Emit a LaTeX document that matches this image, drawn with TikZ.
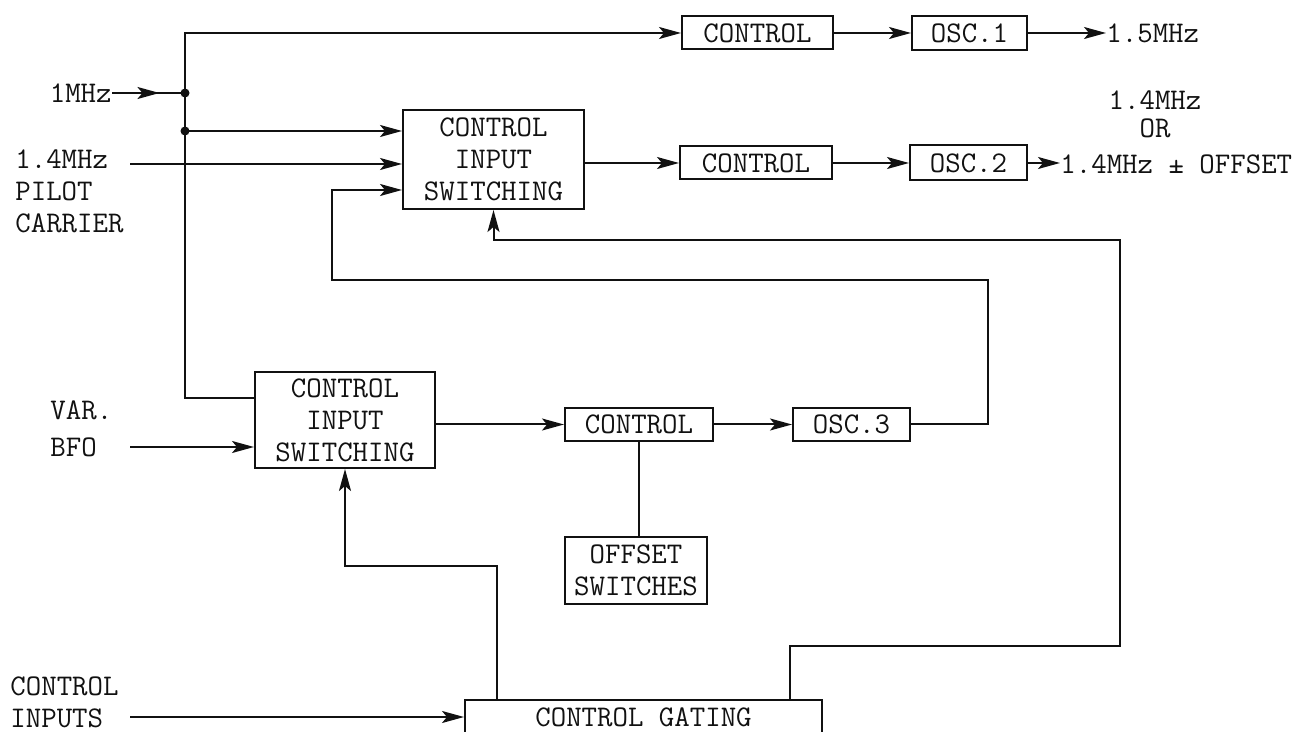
\documentclass[tikz,border=0pt]{standalone}
\usepackage{tikz}
\usetikzlibrary{arrows.meta,positioning,calc,decorations.markings}
\definecolor{ink}{HTML}{111111}
\newcommand{\tyfont}{\ttfamily\fontsize{15}{16}\selectfont}
\tikzset{
  blk/.style={draw=ink,fill=white,line width=1pt,inner sep=0pt,align=center,
    font=\tyfont,text=ink},
  lbl/.style={font=\tyfont,text=ink,inner sep=0pt},
  wire/.style={line width=1pt,color=ink},
  flow/.style={-{Stealth[length=11pt,width=6pt,inset=2.5pt]},line width=1pt,color=ink},
  midarrow/.style={wire,postaction={decorate},decoration={markings,
    mark=at position #1 with {\arrow{Stealth[length=11pt,width=6pt,inset=2.5pt]}}}},
  tap/.style={circle,fill=ink,inner sep=0pt,minimum size=4.5pt}
}
\begin{document}
\begin{tikzpicture}[x=0.5pt,y=-0.5pt]
  \useasboundingbox (0,0) rectangle (1306,732);
  \clip (0,0) rectangle (1306,732);
  % blocks
  \node[blk,minimum width=75.5pt,minimum height=16.5pt] (ctl1) at (757.5,33) {CONTROL};
  \node[blk,minimum width=57.5pt,minimum height=17pt] (osc1) at (969.5,33) {OSC.1};
  \node[blk,minimum width=90.5pt,minimum height=49.5pt] (cis1) at (493.5,159.5) {CONTROL\\INPUT\\SWITCHING};
  \node[blk,minimum width=76pt,minimum height=16.5pt] (ctl2) at (756,163) {CONTROL};
  \node[blk,minimum width=58.5pt,minimum height=17.5pt] (osc2) at (968.5,163) {OSC.2};
  \node[blk,minimum width=90pt,minimum height=48pt] (cis2) at (345,420) {CONTROL\\INPUT\\SWITCHING};
  \node[blk,minimum width=74pt,minimum height=16.5pt] (ctl3) at (639,424.5) {CONTROL};
  \node[blk,minimum width=58.5pt,minimum height=16.5pt] (osc3) at (851.5,424.5) {OSC.3};
  \node[blk,minimum width=71pt,minimum height=33.5pt] (offs) at (636,570.5) {OFFSET\\SWITCHES};
  \node[blk,minimum width=178.5pt,minimum height=17pt] (gate) at (643.5,717) {CONTROL GATING};
  % labels
  \node[lbl,anchor=east] (l1mhz) at (112,93) {1MHz};
  \node[lbl,anchor=north west,align=left] (lpilot) at (15,149) {1.4MHz\\PILOT\\CARRIER};
  \node[lbl,anchor=north west,align=left] (lbfo) at (50,400) {VAR.\\[2.5pt]BFO};
  \node[lbl,anchor=north west,align=left] (lcin) at (10,676) {CONTROL\\INPUTS};
  \node[lbl,anchor=west] (out1) at (1106,33) {1.5MHz};
  \node[lbl,anchor=west] (out2) at (1060,164) {1.4MHz ± OFFSET};
  \node[lbl,align=center] (alt) at (1155,114) {1.4MHz\\[-2pt]OR};
  % junctions and free ends
  \node[tap] (j1) at (185,93) {};
  \node[tap] (j2) at (185,131) {};
  \coordinate (bus) at (185,33);
  \coordinate (pilot) at (130,164);
  \coordinate (bfo) at (130,447);
  \coordinate (cin) at (130,717);
  \coordinate (m1) at (988,280);
  \coordinate (m2) at (332,280);
  \coordinate (k1) at (1120,646);
  \coordinate (k0) at (1120,240);
  \coordinate (gx) at (790,646);
  \coordinate (k2) at (497,566);
  % forward paths
  \draw[flow] ($(cis2.west)+(0,-22)$) -| (bus) -- (ctl1.west);
  \draw[midarrow=0.65] (l1mhz.east) -- (j1.center);
  \draw[flow] (j2.center) -- (cis1.west |- j2);
  \draw[flow] (pilot) -- (cis1.west |- pilot);
  \draw[flow] (bfo) -- (cis2.west |- bfo);
  \draw[flow] (cin) -- (gate.west |- cin);
  \foreach \a/\b in {ctl1/osc1,ctl2/osc2,ctl3/osc3}{\draw[flow] (\a) -- (\b);}
  \draw[flow] (cis1.east |- ctl2.west) -- (ctl2.west);
  \draw[flow] (cis2.east |- ctl3.west) -- (ctl3.west);
  \draw[flow] (osc1) -- (out1);
  \draw[flow] (osc2) -- (out2.west |- osc2.east);
  \draw[wire] (ctl3.south) -- (ctl3.south |- offs.north);
  % feedback paths
  \draw[flow] (osc3.east) -| (m1) -- (m2) |- ($(cis1.west)+(0,30.5)$);
  \draw[flow] (gate.north -| gx) |- (k1) |- (cis1.south |- k0) -- (cis1.south);
  \draw[flow] (gate.north -| k2) |- (cis2.south |- k2) -- (cis2.south);
\end{tikzpicture}
\end{document}
